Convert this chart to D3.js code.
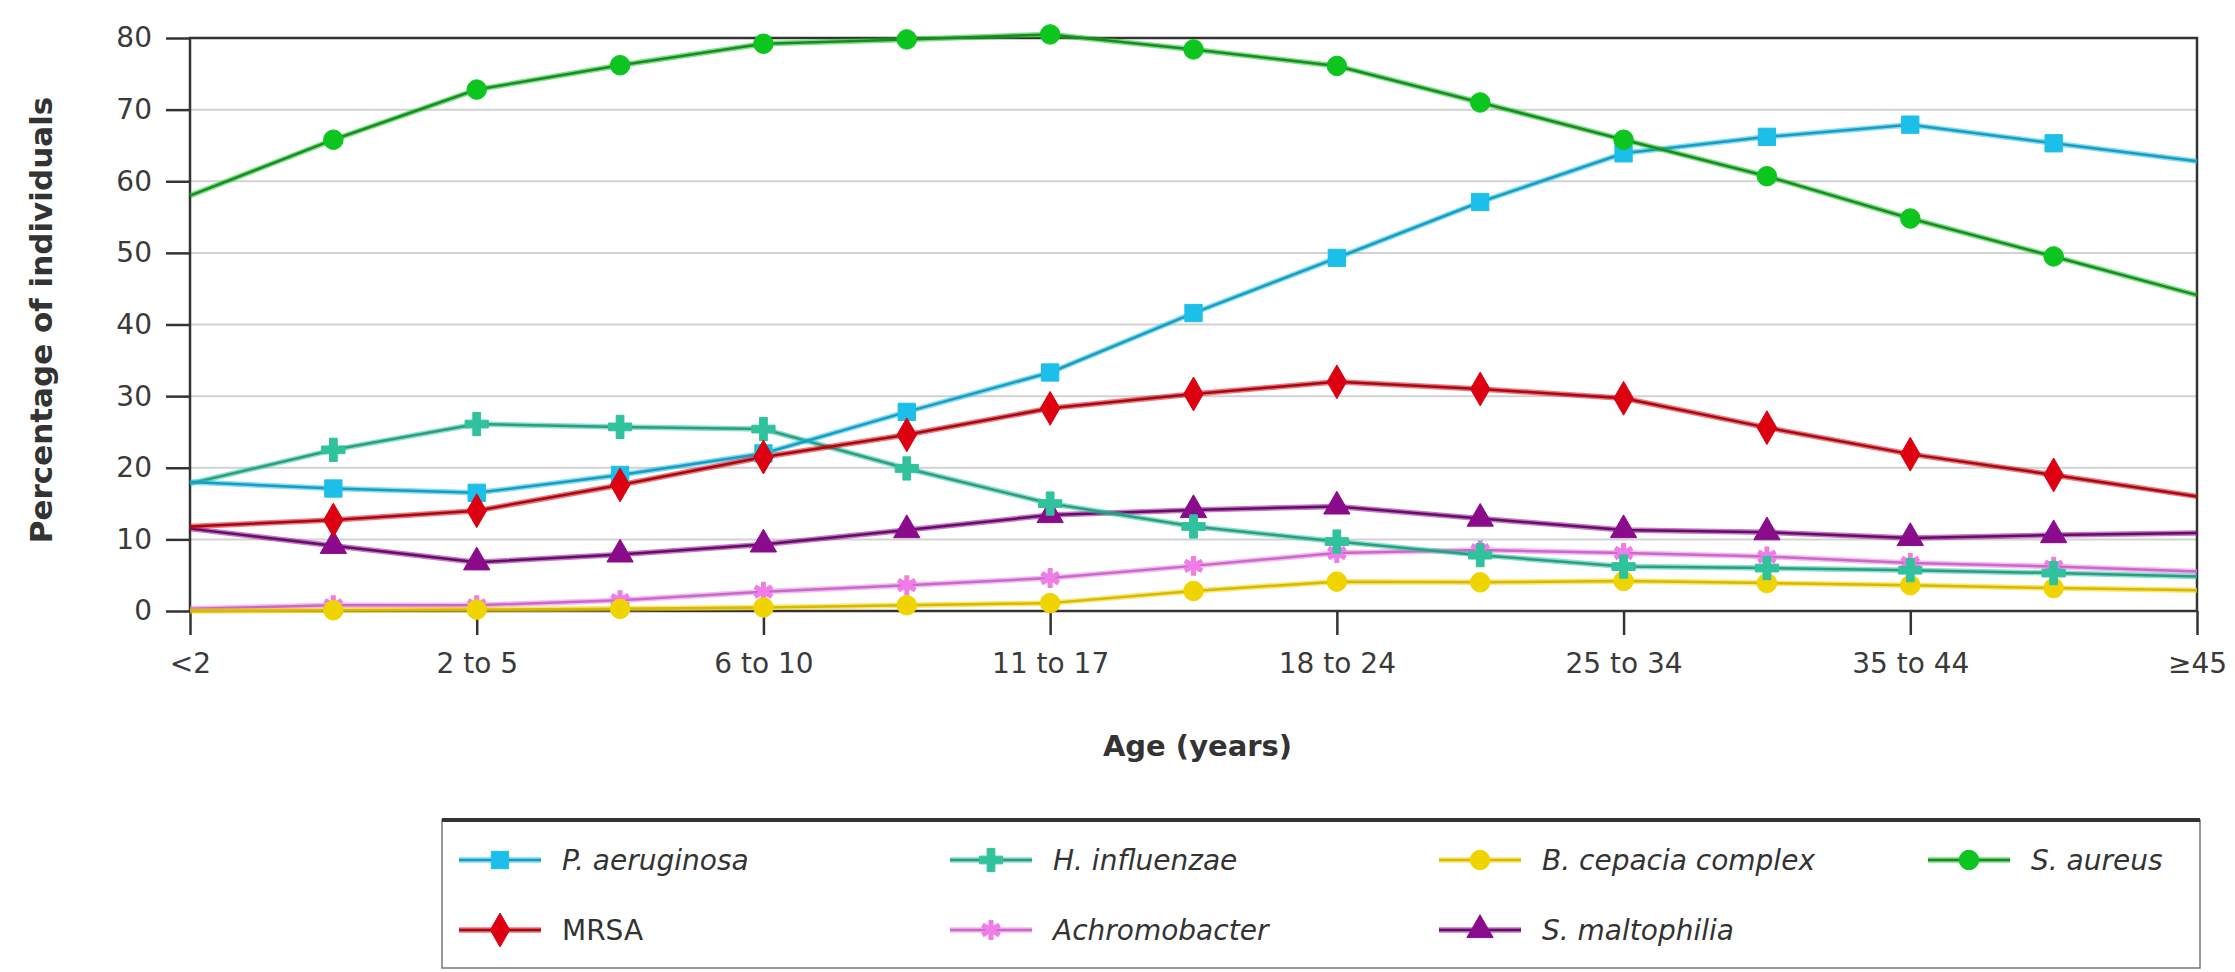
<!DOCTYPE html>
<html><head><meta charset="utf-8">
<script src="https://cdn.jsdelivr.net/npm/d3@7"></script>
<style>html,body{margin:0;padding:0;background:#fff;}svg{display:block;}</style>
</head><body>
<script>
// ---- data ----
const ageLabels = ["<2", "2 to 5", "6 to 10", "11 to 17", "18 to 24", "25 to 34", "35 to 44", "\u226545"];
const yTicks = [0, 10, 20, 30, 40, 50, 60, 70, 80];
const seriesNames = ["P. aeruginosa", "H. influenzae", "B. cepacia complex", "S. aureus", "MRSA", "Achromobacter", "S. maltophilia"];
const pAeruginosa   = [18, 17.1, 16.5, 19.0, 22.0, 27.8, 33.3, 41.6, 49.3, 57.1, 63.9, 66.2, 67.9, 65.3, 62.8];
const hInfluenzae   = [17.8, 22.5, 26.1, 25.7, 25.4, 19.9, 15.0, 11.8, 9.7, 7.8, 6.2, 6.0, 5.7, 5.3, 4.8];
const bCepacia      = [0, 0.1, 0.2, 0.3, 0.5, 0.8, 1.1, 2.8, 4.1, 4.0, 4.2, 3.9, 3.6, 3.2, 2.9];
const sAureus       = [58.0, 65.8, 72.8, 76.2, 79.2, 79.8, 80.5, 78.4, 76.1, 71.0, 65.8, 60.7, 54.8, 49.5, 44.1];
const mrsa          = [11.8, 12.7, 14.0, 17.6, 21.5, 24.6, 28.3, 30.3, 32.0, 31.0, 29.7, 25.6, 21.9, 19.0, 16.0];
const achromobacter = [0.3, 0.8, 0.8, 1.5, 2.7, 3.6, 4.6, 6.3, 8.1, 8.5, 8.1, 7.6, 6.7, 6.2, 5.5];
const sMaltophilia  = [11.5, 9.1, 6.8, 7.9, 9.3, 11.3, 13.4, 14.1, 14.6, 12.9, 11.3, 11.0, 10.2, 10.6, 10.9];
const seriesValues = [pAeruginosa, hInfluenzae, bCepacia, sAureus, mrsa, achromobacter, sMaltophilia];

// ---- styles ----
const colors = ["#1cbfea", "#2fc29c", "#f0d400", "#0cc51e", "#dc0010", "#f07ce8", "#8a0c8c"];
const lineColors = ["#1a9cc0", "#2a9e84", "#d8b800", "#1a8a22", "#a50a10", "#c86ac8", "#6a0a6c"];
const symbols = [d3.symbolSquare, d3.symbolCross, d3.symbolCircle, d3.symbolCircle, d3.symbolDiamond, d3.symbolAsterisk, d3.symbolTriangle];
const symSizes = [300, 300, 300, 300, 330, 280, 300];
const drawOrder = [6, 5, 2, 1, 0, 4, 3];

const W = 2235, H = 972;
const svg = d3.select("body").append("svg").attr("width", W).attr("height", H);
svg.append("rect").attr("width", W).attr("height", H).attr("fill", "#fff");

const x = d3.scaleLinear().domain([0, 14]).range([190, 2197]);
const y = d3.scaleLinear().domain([0, 80]).range([611, 38]);
const font = "'DejaVu Sans', Verdana, sans-serif";

// gridlines
svg.append("g").selectAll("line").data(yTicks.filter(v => v > 0 && v < 80)).join("line")
  .attr("x1", x(0)).attr("x2", x(14)).attr("y1", d => y(d)).attr("y2", d => y(d))
  .attr("stroke", "#d2d2d2").attr("stroke-width", 2);

// axes
const yAxis = d3.axisLeft(y).tickValues(yTicks).tickSize(24).tickPadding(14).tickFormat(d3.format("d"));
const gy = svg.append("g").attr("transform", `translate(${x(0)},0)`).call(yAxis);
const xAxis = d3.axisBottom(x).tickValues(d3.range(0, 15, 2)).tickSize(24).tickPadding(18)
  .tickFormat(d => ageLabels[d / 2]);
const gx = svg.append("g").attr("transform", `translate(0,${y(0)})`).call(xAxis);
[gx, gy].forEach(g => {
  g.select(".domain").remove();
  g.selectAll(".tick line").attr("stroke", "#333").attr("stroke-width", 2.5);
  g.selectAll("text").attr("font-family", font).attr("font-size", 28).attr("fill", "#3a3a3a");
});

// frame
svg.append("rect").attr("x", x(0)).attr("y", y(80)).attr("width", x(14) - x(0)).attr("height", y(0) - y(80))
  .attr("fill", "none").attr("stroke", "#333").attr("stroke-width", 2.5);

// axis titles
svg.append("text").attr("x", (x(0) + x(14)) / 2 + 4).attr("y", 756).attr("text-anchor", "middle")
  .attr("font-family", font).attr("font-weight", "bold").attr("font-size", 29).attr("fill", "#333").text("Age (years)");
svg.append("text").attr("transform", `translate(52,320) rotate(-90)`).attr("text-anchor", "middle")
  .attr("font-family", font).attr("font-weight", "bold").attr("font-size", 31).attr("fill", "#333").text("Percentage of individuals");

// lines & markers
const line = d3.line().x((d, i) => x(i)).y(d => y(d));
const plot = svg.append("g");
drawOrder.forEach(s => {
  plot.append("path").attr("d", line(seriesValues[s])).attr("fill", "none")
    .attr("stroke", colors[s]).attr("stroke-width", 5.5).attr("stroke-opacity", 0.55);
  plot.append("path").attr("d", line(seriesValues[s])).attr("fill", "none")
    .attr("stroke", lineColors[s]).attr("stroke-width", 2.5);
});
function marker(g, s) {
  const isStroke = symbols[s] === d3.symbolAsterisk;
  g.append("path").attr("d", d3.symbol().type(symbols[s]).size(symSizes[s])())
    .attr("fill", isStroke ? "none" : colors[s])
    .attr("stroke", colors[s]).attr("stroke-width", isStroke ? 5 : 1);
}
drawOrder.forEach(s => {
  seriesValues[s].forEach((v, i) => {
    if (i === 0 || i === 14) return;
    const g = plot.append("g").attr("transform", `translate(${x(i)},${y(v)})`);
    marker(g, s);
  });
});

// legend
const lg = svg.append("g");
lg.append("rect").attr("x", 442).attr("y", 820).attr("width", 1758).attr("height", 148)
  .attr("fill", "#fff").attr("stroke", "#777").attr("stroke-width", 1.5);
lg.append("line").attr("x1", 442).attr("x2", 2200).attr("y1", 820).attr("y2", 820)
  .attr("stroke", "#333").attr("stroke-width", 4);
const colX = [500, 991, 1480, 1969];
const rowY = [860, 930];
seriesNames.forEach((name, s) => {
  const cx = colX[s % 4], cy = rowY[Math.floor(s / 4)];
  const g = lg.append("g").attr("transform", `translate(${cx},${cy})`);
  g.append("line").attr("x1", -41).attr("x2", 41).attr("stroke", colors[s]).attr("stroke-width", 5.5).attr("stroke-opacity", 0.55);
  g.append("line").attr("x1", -41).attr("x2", 41).attr("stroke", lineColors[s]).attr("stroke-width", 2.5);
  marker(g, s);
  g.append("text").attr("x", 62).attr("dy", "0.35em").attr("font-family", font).attr("font-size", 28)
    .attr("font-style", name === "MRSA" ? "normal" : "italic").attr("fill", "#333").text(name);
});
</script>
</body></html>
